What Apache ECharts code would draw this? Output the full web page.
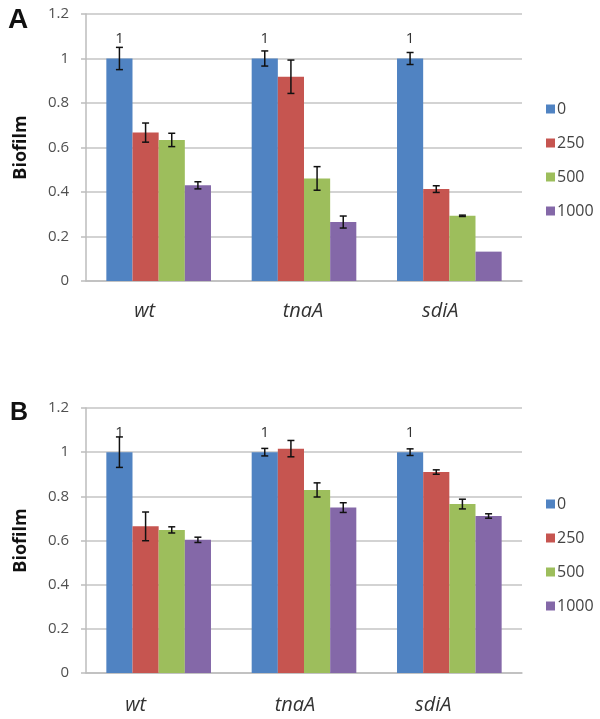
<!DOCTYPE html>
<html>
<head>
<meta charset="utf-8">
<script src="https://cdn.jsdelivr.net/npm/echarts@6/dist/echarts.min.js"></script>
<style>html,body{margin:0;padding:0;background:#fff}#c{width:600px;height:719px}</style>
</head>
<body>
<div id="c"></div>
<script>
var categories = ['wt', 'tnaA', 'sdiA'];
var seriesNames = ['0', '250', '500', '1000'];
var yTicks = [0, 0.2, 0.4, 0.6, 0.8, 1, 1.2];

// Panel A values and errors (per concentration)
var a0 = [1.0, 1.0, 1.0];
var a250 = [0.667, 0.918, 0.413];
var a500 = [0.634, 0.461, 0.293];
var a1000 = [0.430, 0.265, 0.132];
var aErr0 = [0.05, 0.034, 0.027];
var aErr250 = [0.043, 0.075, 0.015];
var aErr500 = [0.03, 0.053, 0.003];
var aErr1000 = [0.016, 0.027, 0];

// Panel B values and errors
var b0 = [1.0, 1.0, 1.0];
var b250 = [0.664, 1.016, 0.910];
var b500 = [0.648, 0.829, 0.765];
var b1000 = [0.603, 0.749, 0.711];
var bErr0 = [0.069, 0.017, 0.015];
var bErr250 = [0.065, 0.037, 0.01];
var bErr500 = [0.014, 0.032, 0.022];
var bErr1000 = [0.012, 0.022, 0.01];

var colors = ['#5083C2', '#C65550', '#9DBE5C', '#8468A8'];
var GAP = 0.28;

var chart = echarts.init(document.getElementById('c'));

function yAxisCfg(gi) {
  return {
    type: 'value', gridIndex: gi, min: yTicks[0], max: yTicks[yTicks.length - 1], interval: 0.2,
    name: 'Biofilm', nameLocation: 'middle', nameGap: 56,
    nameTextStyle: {fontFamily: 'Open Sans', fontWeight: 'bold', fontSize: 18, color: '#111'},
    axisLine: {show: true, lineStyle: {color: '#bdbdbd', width: 1.5}},
    axisTick: {show: true, length: 5, lineStyle: {color: '#bdbdbd', width: 1.5}},
    splitLine: {show: true, lineStyle: {color: '#c4c4c4', width: 1.5}},
    axisLabel: {margin: 17, fontFamily: 'Open Sans', fontSize: 15, color: '#505050'}
  };
}
function xAxisCfg(gi, shifts, margin) {
  return {
    type: 'category', gridIndex: gi,
    data: categories.map(function (c, i) {
      return {value: c, textStyle: {padding: [0, shifts[i] * 2, 0, 0]}};
    }),
    axisLine: {show: true, lineStyle: {color: '#bdbdbd', width: 1.5}},
    axisTick: {show: false},
    axisLabel: {margin: margin, fontFamily: 'Open Sans', fontStyle: 'italic', fontSize: 20, color: '#333'}
  };
}

function barSeries(gi, vals) {
  return vals.map(function (v, si) {
    return {
      name: seriesNames[si], type: 'bar', xAxisIndex: gi, yAxisIndex: gi,
      data: v, barGap: 0, barCategoryGap: (GAP * 100) + '%',
      itemStyle: {color: colors[si]},
      label: si === 0 ? {show: true, position: 'top', distance: 12, fontFamily: 'Open Sans', fontSize: 15, color: '#333'} : {show: false},
      z: 2
    };
  });
}

function errSeries(gi, vals, errs) {
  var data = [];
  vals.forEach(function (v, si) {
    v.forEach(function (val, ci) {
      data.push([ci, val, errs[si][ci], si]);
    });
  });
  return {
    type: 'custom', xAxisIndex: gi, yAxisIndex: gi, z: 5,
    data: data,
    renderItem: function (params, api) {
      var ci = api.value(0), val = api.value(1), err = api.value(2), si = api.value(3);
      if (!(err > 0)) return null;
      var band = api.size([1, 0])[0];
      var bw = band * (1 - GAP) / 4;
      var c = api.coord([ci, val]);
      var x = c[0] + (si - 1.5) * bw;
      var top = api.coord([ci, val + err])[1];
      var bot = api.coord([ci, val - err])[1];
      var cap = 3.5;
      var st = {stroke: '#111', lineWidth: 1.5};
      return {
        type: 'group',
        children: [
          {type: 'line', shape: {x1: x, y1: top, x2: x, y2: bot}, style: st},
          {type: 'line', shape: {x1: x - cap, y1: top, x2: x + cap, y2: top}, style: st},
          {type: 'line', shape: {x1: x - cap, y1: bot, x2: x + cap, y2: bot}, style: st}
        ]
      };
    }
  };
}

function legendCfg(top) {
  return {
    orient: 'vertical', left: 541, top: top, data: seriesNames,
    icon: 'rect', itemWidth: 9, itemHeight: 9, itemGap: 18,
    textStyle: {fontFamily: 'Open Sans', fontSize: 16, color: '#444', lineHeight: 16, padding: [0, 0, 0, -3]}
  };
}

var option = {
  animation: false,
  backgroundColor: '#fff',
  color: colors,
  title: [
    {text: 'A', left: 3, top: 1, textStyle: {fontFamily: 'Liberation Sans', fontWeight: 'bold', fontSize: 28, color: '#111'}},
    {text: 'B', left: 5, top: 396, textStyle: {fontFamily: 'Liberation Sans', fontWeight: 'bold', fontSize: 25, color: '#111'}}
  ],
  legend: [legendCfg(96), legendCfg(491)],
  grid: [
    {left: 86, top: 14, width: 436, height: 267},
    {left: 86, top: 408, width: 436, height: 265}
  ],
  xAxis: [xAxisCfg(0, [14, 1, 9], 20), xAxisCfg(1, [23, 9, 16], 22)],
  yAxis: [yAxisCfg(0), yAxisCfg(1)],
  series: []
    .concat(barSeries(0, [a0, a250, a500, a1000]))
    .concat(barSeries(1, [b0, b250, b500, b1000]))
    .concat([
      errSeries(0, [a0, a250, a500, a1000], [aErr0, aErr250, aErr500, aErr1000]),
      errSeries(1, [b0, b250, b500, b1000], [bErr0, bErr250, bErr500, bErr1000])
    ])
};
chart.setOption(option);
</script>
</body>
</html>
